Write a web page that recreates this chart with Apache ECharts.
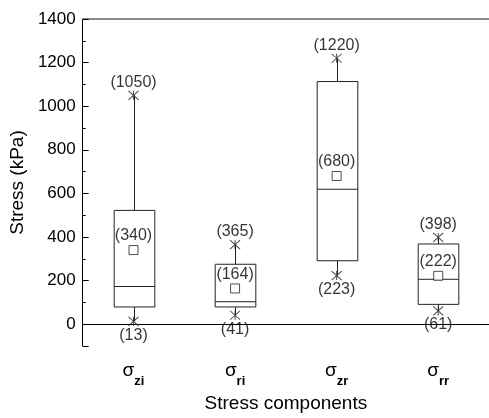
<!DOCTYPE html>
<html>
<head>
<meta charset="utf-8">
<script src="https://cdn.jsdelivr.net/npm/echarts@6/dist/echarts.min.js"></script>
<style>html,body{margin:0;padding:0;background:#fff}#c{width:489px;height:418px}</style>
</head>
<body>
<div id="c"></div>
<script>
var categories = ['zi', 'ri', 'zr', 'rr'];
var minVals = [13, 41, 223, 61];
var q1Vals = [79, 79, 291, 91];
var medianVals = [173, 103, 619, 206];
var q3Vals = [522, 275, 1113, 368];
var maxVals = [1050, 365, 1220, 398];
var meanVals = [340, 164, 680, 222];
var yTicks = [0, 200, 400, 600, 800, 1000, 1200, 1400];

var FONT = '"Liberation Sans", Arial, sans-serif';
var TXT = '#000';
var chart = echarts.init(document.getElementById('c'));

var boxData = categories.map(function (c, i) {
  return [i, minVals[i], q1Vals[i], medianVals[i], q3Vals[i], maxVals[i]];
});
function pts(arr) { return arr.map(function (v, i) { return [i, v]; }); }

var starPath = 'path://M0,0L10,10M10,0L0,10M5,0L5,10';

chart.setOption({
  animation: false,
  backgroundColor: '#fff',
  grid: { left: 79, top: 19, width: 414, bottom: 69, containLabel: false },
  xAxis: [{
    type: 'category',
    data: categories,
    boundaryGap: true,
    name: 'Stress components',
    nameLocation: 'middle',
    nameGap: 48,
    nameTextStyle: { fontFamily: FONT, fontSize: 19, color: TXT },
    axisLine: { lineStyle: { color: '#000', width: 1 } },
    axisTick: { inside: true, alignWithLabel: true, length: 4, lineStyle: { color: '#000' } },
    axisLabel: {
      margin: 14,
      formatter: function (v) { return '{s|σ}{b|' + v + '}'; },
      rich: {
        s: { fontFamily: FONT, fontSize: 19, color: TXT, verticalAlign: 'bottom', lineHeight: 20 },
        b: { fontFamily: FONT, fontSize: 13, fontWeight: 'bold', color: TXT, verticalAlign: 'bottom', lineHeight: 20, padding: [0, 0, -8, 0] }
      }
    },
    splitLine: { show: false }
  }, {
    type: 'category',
    data: categories,
    position: 'top',
    axisLine: { lineStyle: { color: '#8a8a8a', width: 2 } },
    axisTick: { show: false },
    axisLabel: { show: false }
  }],
  yAxis: {
    type: 'value',
    min: -100,
    max: 1400,
    minInterval: 200,
    maxInterval: 200,
    name: 'Stress (kPa)',
    nameLocation: 'middle',
    nameGap: 44,
    nameTextStyle: { fontFamily: FONT, fontSize: 19, color: TXT },
    axisLine: { show: true, lineStyle: { color: '#000', width: 1 } },
    axisTick: { show: true, inside: true, length: 6, lineStyle: { color: '#000' } },
    minorTick: { show: true, splitNumber: 2, length: 3, lineStyle: { color: '#000' } },
    axisLabel: {
      margin: 7,
      fontFamily: FONT, fontSize: 17, color: TXT,
      formatter: function (v) { return yTicks.indexOf(v) >= 0 ? String(v) : ''; }
    },
    splitLine: { show: false }
  },
  series: [{
    type: 'custom',
    data: boxData,
    renderItem: function (params, api) {
      var i = api.value(0);
      var pMin = api.coord([i, api.value(1)]);
      var pQ1 = api.coord([i, api.value(2)]);
      var pMed = api.coord([i, api.value(3)]);
      var pQ3 = api.coord([i, api.value(4)]);
      var pMax = api.coord([i, api.value(5)]);
      var w = api.size([1, 0])[0] * 0.4;
      var x = Math.round(pQ1[0]) + 0.5;
      var st = { stroke: '#222', lineWidth: 1, fill: null };
      return {
        type: 'group',
        children: [
          { type: 'line', shape: { x1: x, y1: pMax[1], x2: x, y2: pQ3[1] }, style: st },
          { type: 'line', shape: { x1: x, y1: pQ1[1], x2: x, y2: pMin[1] }, style: st },
          { type: 'rect', shape: { x: x - w / 2, y: pQ3[1], width: w, height: pQ1[1] - pQ3[1] }, style: { stroke: '#222', lineWidth: 1, fill: 'rgba(0,0,0,0)' } },
          { type: 'line', shape: { x1: x - w / 2, y1: pMed[1], x2: x + w / 2, y2: pMed[1] }, style: st }
        ]
      };
    },
    z: 2
  }, {
    type: 'scatter',
    data: pts(maxVals),
    symbol: starPath,
    symbolSize: [10, 9],
    itemStyle: { color: 'rgba(0,0,0,0)', borderColor: '#222', borderWidth: 1 },
    label: { show: true, position: 'top', distance: 0, fontFamily: FONT, fontSize: 16, color: TXT,
      formatter: function (p) { return '(' + p.value[1] + ')'; } },
    z: 3
  }, {
    type: 'scatter',
    data: pts(minVals),
    symbol: starPath,
    symbolSize: [10, 9],
    itemStyle: { color: 'rgba(0,0,0,0)', borderColor: '#222', borderWidth: 1 },
    label: { show: true, position: 'bottom', distance: 1, fontFamily: FONT, fontSize: 16, color: TXT,
      formatter: function (p) { return '(' + p.value[1] + ')'; } },
    z: 3
  }, {
    type: 'scatter',
    data: pts(meanVals),
    symbol: 'rect',
    symbolSize: 9,
    itemStyle: { color: '#fff', borderColor: '#222', borderWidth: 1 },
    label: { show: true, position: 'top', distance: 1, fontFamily: FONT, fontSize: 16, color: TXT,
      formatter: function (p) { return '(' + p.value[1] + ')'; } },
    z: 3
  }]
});
</script>
</body>
</html>
